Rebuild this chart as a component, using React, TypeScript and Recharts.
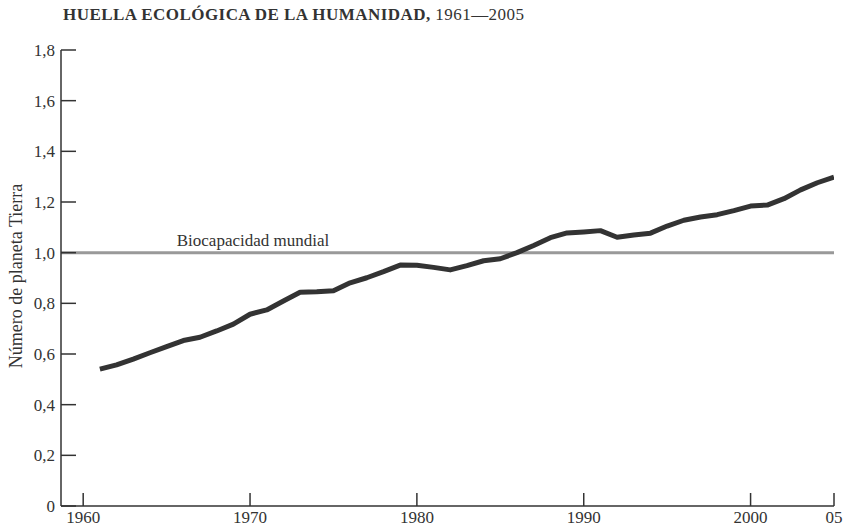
import React from 'react';
import { LineChart, Line, XAxis, YAxis, ReferenceLine } from 'recharts';

const years = [1961,1962,1963,1964,1965,1966,1967,1968,1969,1970,1971,1972,1973,1974,1975,1976,1977,1978,1979,1980,1981,1982,1983,1984,1985,1986,1987,1988,1989,1990,1991,1992,1993,1994,1995,1996,1997,1998,1999,2000,2001,2002,2003,2004,2005];
const footprint = [0.54,0.557,0.58,0.605,0.629,0.653,0.666,0.691,0.718,0.757,0.774,0.809,0.844,0.846,0.85,0.881,0.901,0.925,0.951,0.95,0.942,0.932,0.949,0.968,0.976,1.0,1.028,1.059,1.078,1.082,1.087,1.061,1.07,1.077,1.105,1.128,1.141,1.15,1.166,1.184,1.188,1.213,1.248,1.276,1.298];
const xTicks = [1960,1970,1980,1990,2000,2005];
const yTicks = [0,0.2,0.4,0.6,0.8,1.0,1.2,1.4,1.6,1.8];
const biocapacity = 1.0;

const data = years.map((y, i) => ({ year: y, value: footprint[i] }));
const FONT = '"Liberation Serif", "Times New Roman", serif';
const TXT = '#333';

const fmtY = (v: number) => (v === 0 ? '0' : v.toFixed(1).replace('.', ','));
const fmtX = (v: number) => (v === 2005 ? '05' : String(v));

export default function App() {
  return (
    <div style={{ position: 'absolute', left: 0, top: 0, width: 846, height: 530, background: '#fff' }}>
      <div style={{ position: 'absolute', left: 63, top: 5, fontFamily: FONT, fontSize: 17, color: TXT, whiteSpace: 'nowrap', letterSpacing: 0.45 }}>
        <b>HUELLA ECOLÓGICA DE LA HUMANIDAD,</b> 1961—2005
      </div>
      <LineChart width={846} height={530} data={data} margin={{ top: 50, right: 12, bottom: 0, left: 0 }}>
        <XAxis
          dataKey="year"
          type="number"
          domain={[1958.67, 2005]}
          allowDataOverflow
          ticks={xTicks}
          tickFormatter={fmtX}
          height={24}
          tickSize={-13}
          tickMargin={18}
          axisLine={{ stroke: '#333', strokeWidth: 1.5 }}
          tickLine={{ stroke: '#333', strokeWidth: 1.5 }}
          tick={{ fill: TXT, fontFamily: FONT, fontSize: 17 }}
        />
        <YAxis
          type="number"
          domain={[0, 1.8]}
          ticks={yTicks}
          tickFormatter={fmtY}
          width={61}
          tickSize={-15}
          tickMargin={21}
          axisLine={{ stroke: '#333', strokeWidth: 1.5 }}
          tickLine={{ stroke: '#333', strokeWidth: 1.5 }}
          tick={{ fill: TXT, fontFamily: FONT, fontSize: 17 }}
          label={{
            content: () => (
              <text x={16} y={276} transform="rotate(-90 16 276)" textAnchor="middle" dominantBaseline="central" fill={TXT} fontFamily={FONT} fontSize={18}>
                Número de planeta Tierra
              </text>
            ),
          }}
        />
        <ReferenceLine
          y={biocapacity}
          stroke="#999"
          strokeWidth={3}
          label={{
            content: (p: any) => (
              <text x={p.viewBox.x + 192} y={p.viewBox.y - 7} textAnchor="middle" fill={TXT} fontFamily={FONT} fontSize={17}>
                Biocapacidad mundial
              </text>
            ),
          }}
        />
        <Line
          dataKey="value"
          type="linear"
          stroke="#333"
          strokeWidth={5}
          dot={false}
          activeDot={false}
          isAnimationActive={false}
          strokeLinejoin="round"
        />
      </LineChart>
    </div>
  );
}
